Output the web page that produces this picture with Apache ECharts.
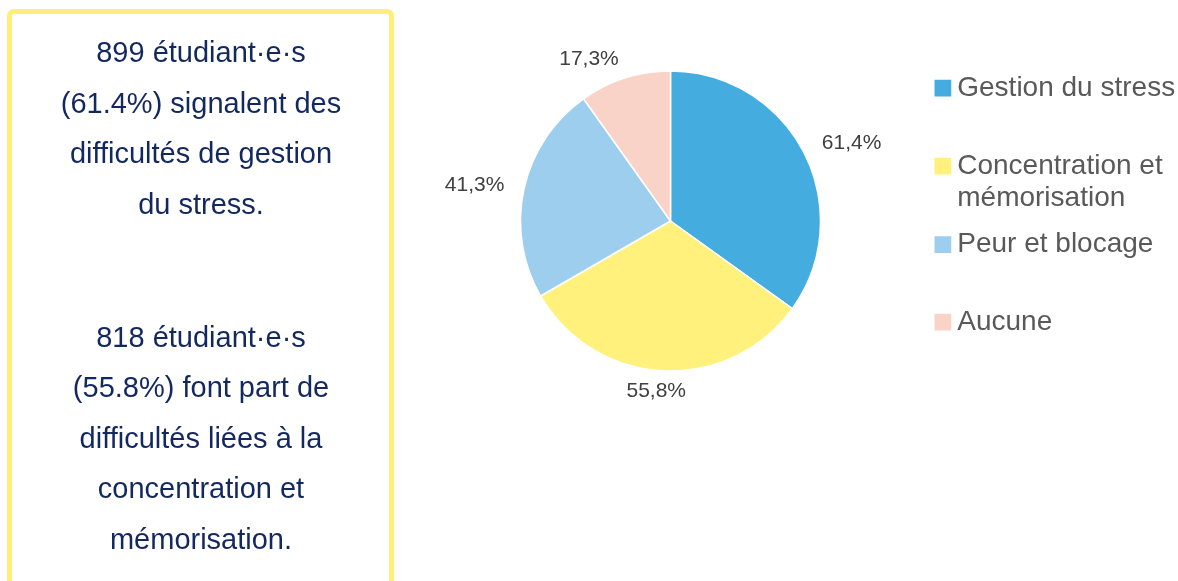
<!DOCTYPE html>
<html>
<head>
<meta charset="utf-8">
<style>
  html, body { margin: 0; padding: 0; background: #fff; }
  #chart { width: 1178px; height: 581px; }
</style>
<script src="https://cdn.jsdelivr.net/npm/echarts@6/dist/echarts.min.js"></script>
</head>
<body>
<div id="chart"></div>
<script>
// données du graphique
const categories = ['Gestion du stress', 'Concentration et\nmémorisation', 'Peur et blocage', 'Aucune'];
const values = [61.4, 55.8, 41.3, 17.3];
const colors = ['#45ACDF', '#FFF17B', '#9ECEED', '#F9D3C8'];
const legendTops = [72, 118, 228.5, 306];

const paragraph1 = '899 étudiant·e·s\n(61.4%) signalent des\ndifficultés de gestion\ndu stress.';
const paragraph2 = '818 étudiant·e·s\n(55.8%) font part de\ndifficultés liées à la\nconcentration et\nmémorisation.';

const FONT = '"Liberation Sans", Arial, sans-serif';
const chart = echarts.init(document.getElementById('chart'));

// une légende par entrée, pour garder le carré aligné sur la première ligne
const legends = categories.map((name, i) => ({
  orient: 'vertical',
  left: 932.5,
  top: legendTops[i],
  padding: 0,
  itemWidth: 18.75,
  itemHeight: 18.75,
  icon: 'rect',
  selectedMode: false,
  data: [name],
  formatter: (n) => n.indexOf('\n') >= 0 ? '\n' + n : n,
  textStyle: { fontFamily: FONT, fontSize: 28, color: '#595959', lineHeight: 32 }
}));

chart.setOption({
  animation: false,
  color: colors,
  legend: legends,
  graphic: [
    {
      type: 'rect',
      shape: { x: 9.5, y: 11.5, width: 382, height: 700, r: 4 },
      style: { fill: 'none', stroke: '#FFEF7A', lineWidth: 5 }
    },
    {
      type: 'text',
      x: 201, y: 130,
      style: { text: paragraph1, fontFamily: FONT, fontSize: 29, lineHeight: 50.5,
               fill: '#13285F', align: 'center', verticalAlign: 'middle' }
    },
    {
      type: 'text',
      x: 201, y: 439.5,
      style: { text: paragraph2, fontFamily: FONT, fontSize: 29, lineHeight: 50.5,
               fill: '#13285F', align: 'center', verticalAlign: 'middle' }
    }
  ],
  series: [{
    type: 'pie',
    center: [670.5, 221],
    radius: 150,
    startAngle: 90,
    clockwise: true,
    itemStyle: { borderColor: '#fff', borderWidth: 1.5 },
    label: {
      show: true,
      position: 'outside',
      distanceToLabelLine: 0,
      fontFamily: FONT,
      fontSize: 21,
      color: '#404040',
      formatter: (p) => p.value.toFixed(1).replace('.', ',') + '%'
    },
    labelLine: { show: false, length: 20, length2: 0 },
    labelLayout: (p) => p.dataIndex === 1 ? { dx: 24 } : {},
    emphasis: { disabled: true },
    data: categories.map((name, i) => ({ name: name, value: values[i] }))
  }]
});
</script>
</body>
</html>
